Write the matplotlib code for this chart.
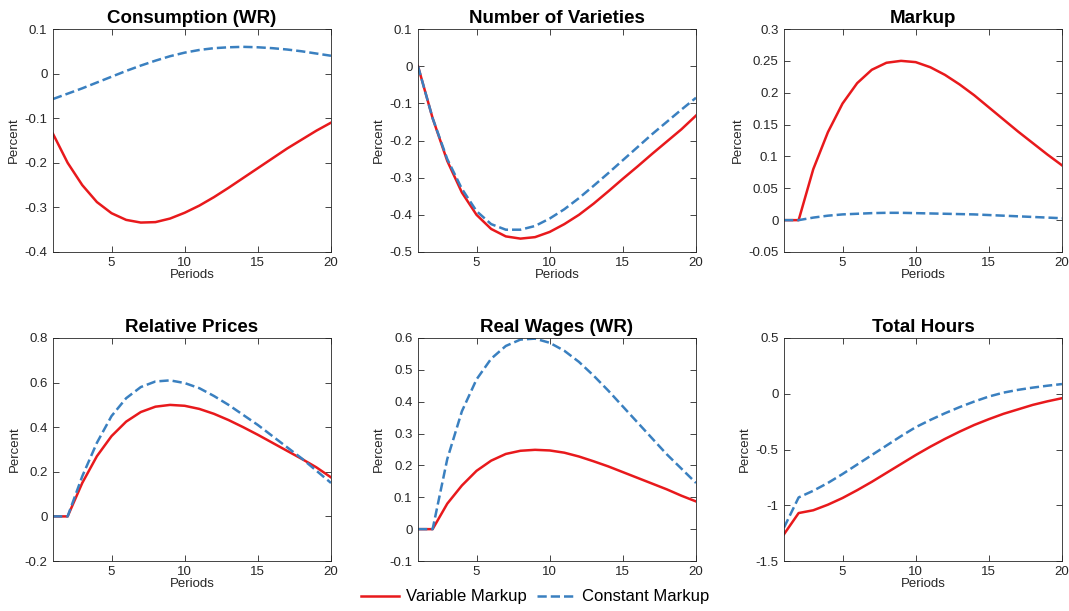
import matplotlib
matplotlib.use("Agg")
import matplotlib.pyplot as plt
from matplotlib.ticker import FuncFormatter
import numpy as np

plt.rcParams['font.family'] = ['Liberation Sans', 'DejaVu Sans']

periods = np.arange(1, 21)

titles = ['Consumption (WR)', 'Number of Varieties', 'Markup',
          'Relative Prices', 'Real Wages (WR)', 'Total Hours']

variable_markup = [
    [-0.135, -0.2, -0.25, -0.288, -0.313, -0.328, -0.334, -0.333, -0.325, -0.312,
     -0.296, -0.277, -0.256, -0.234, -0.212, -0.19, -0.168, -0.148, -0.128, -0.11],
    [0, -0.14, -0.255, -0.34, -0.4, -0.438, -0.458, -0.464, -0.46, -0.446,
     -0.425, -0.4, -0.37, -0.337, -0.303, -0.27, -0.236, -0.203, -0.17, -0.133],
    [0, 0, 0.08, 0.138, 0.183, 0.215, 0.236, 0.247, 0.25, 0.248,
     0.24, 0.228, 0.213, 0.196, 0.177, 0.158, 0.139, 0.121, 0.103, 0.086],
    [0, 0, 0.15, 0.27, 0.36, 0.425, 0.468, 0.492, 0.5, 0.496,
     0.482, 0.46, 0.432, 0.4, 0.366, 0.33, 0.294, 0.258, 0.22, 0.175],
    [0, 0, 0.08, 0.137, 0.183, 0.215, 0.236, 0.246, 0.249, 0.247,
     0.24, 0.228, 0.213, 0.197, 0.179, 0.161, 0.143, 0.125, 0.105, 0.087],
    [-1.26, -1.07, -1.045, -0.995, -0.935, -0.865, -0.79, -0.71, -0.63, -0.55,
     -0.475, -0.405, -0.34, -0.28, -0.228, -0.18, -0.14, -0.1, -0.068, -0.04],
]

constant_markup = [
    [-0.057, -0.045, -0.033, -0.02, -0.007, 0.006, 0.018, 0.029, 0.039, 0.047,
     0.053, 0.057, 0.059, 0.06, 0.059, 0.057, 0.054, 0.05, 0.045, 0.04],
    [0, -0.14, -0.25, -0.33, -0.39, -0.425, -0.44, -0.44, -0.43, -0.41,
     -0.385, -0.355, -0.322, -0.288, -0.253, -0.218, -0.183, -0.15, -0.117, -0.085],
    [0, 0, 0.004, 0.007, 0.009, 0.01, 0.011, 0.0115, 0.0115, 0.011,
     0.0105, 0.01, 0.0095, 0.009, 0.008, 0.007, 0.006, 0.005, 0.004, 0.003],
    [0, 0, 0.18, 0.33, 0.45, 0.53, 0.58, 0.605, 0.61, 0.598,
     0.575, 0.54, 0.5, 0.455, 0.41, 0.36, 0.31, 0.26, 0.205, 0.15],
    [0, 0, 0.22, 0.37, 0.47, 0.535, 0.575, 0.595, 0.598, 0.585,
     0.56, 0.525, 0.482, 0.435, 0.385, 0.335, 0.285, 0.235, 0.19, 0.145],
    [-1.2, -0.93, -0.87, -0.8, -0.72, -0.635, -0.55, -0.465, -0.38, -0.3,
     -0.235, -0.175, -0.12, -0.07, -0.025, 0.01, 0.035, 0.055, 0.072, 0.087],
]

y_ranges = [(-0.4, 0.1, 0.1), (-0.5, 0.1, 0.1), (-0.05, 0.3, 0.05),
            (-0.2, 0.8, 0.2), (-0.1, 0.6, 0.1), (-1.5, 0.5, 0.5)]

red = '#e8191c'
blue = '#3a80c0'

W, H = 1069, 611
fig = plt.figure(figsize=(W / 100, H / 100), dpi=100)

lefts = [53, 418, 784]
tops = [29, 338]
aw, ah = 278, 223


def tick_fmt(v, pos):
    v = round(v, 4)
    if abs(v) < 1e-9:
        return '0'
    return '%g' % v


for i in range(6):
    row, col = divmod(i, 3)
    l, t = lefts[col], tops[row]
    ax = fig.add_axes([l / W, 1 - (t + ah) / H, aw / W, ah / H])
    lr, = ax.plot(periods, variable_markup[i], color=red, lw=1.8)
    lb, = ax.plot(periods, constant_markup[i], color=blue, lw=1.8, ls='--')
    lo, hi, step = y_ranges[i]
    ax.set_ylim(lo, hi)
    ax.set_yticks(np.arange(lo, hi + step / 2, step))
    ax.yaxis.set_major_formatter(FuncFormatter(tick_fmt))
    ax.set_xlim(1, 20)
    ax.set_xticks([5, 10, 15, 20])
    ax.tick_params(direction='in', top=True, right=True, labelsize=9.5,
                   colors='#262626', length=4, width=0.6)
    ax.tick_params(axis='y', pad=4)
    for s in ax.spines.values():
        s.set_linewidth(0.6)
        s.set_color('#262626')
    ax.set_title(titles[i], fontsize=13.5, fontweight='bold', pad=4)
    ax.set_ylabel('Percent', fontsize=9.5, color='#262626', labelpad=3)
    if i != 4:
        ax.set_xlabel('Periods', fontsize=9.5, color='#262626', labelpad=0)

fig.legend([lr, lb], ['Variable Markup', 'Constant Markup'], loc='center',
           bbox_to_anchor=(535 / W, 1 - 597 / H), ncol=2, frameon=False,
           fontsize=12, handlelength=2.3, columnspacing=0.6, handletextpad=0.4)

fig.savefig('out.png', dpi=100)
